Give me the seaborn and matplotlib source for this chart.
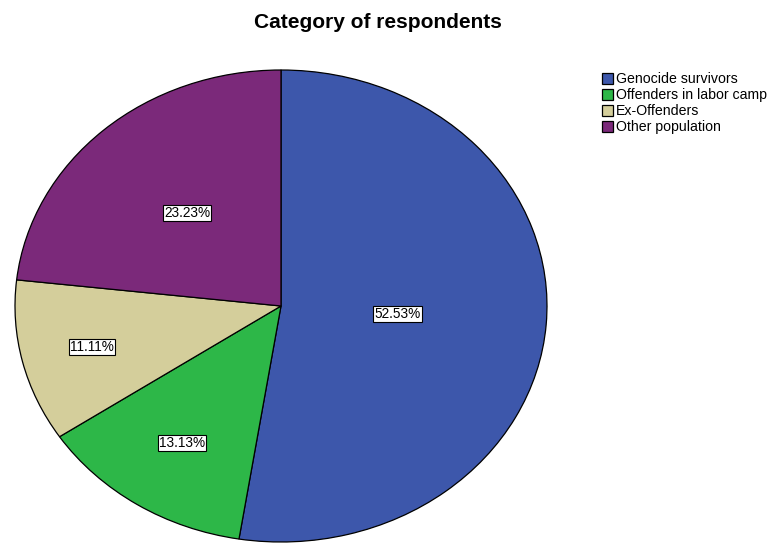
import numpy as np
import matplotlib.pyplot as plt
import seaborn as sns

# data (counts out of 99 respondents)
categories = ["Genocide survivors", "Offenders in labor camp", "Ex-Offenders", "Other population"]
counts = [52, 13, 11, 23]
colors = ["#3D57AB", "#2DB748", "#D4CE9B", "#7B297A"]
label_dist = [0.44, 0.69, 0.73, 0.53]

sns.set_theme(style="white")
plt.rcParams["font.family"] = ["Liberation Sans", "DejaVu Sans"]
plt.rcParams["text.color"] = "black"

fig = plt.figure(figsize=(7.72, 5.43), dpi=100)
ax = fig.add_axes([15 / 772, 1 / 543, 532 / 772, 472 / 543])

wedges, _ = ax.pie(
    counts,
    colors=sns.color_palette(colors),
    startangle=90,
    counterclock=False,
    wedgeprops=dict(edgecolor="black", linewidth=0.9),
)
ax.set_aspect("auto")
ax.set_xlim(-1.0, 1.0)
ax.set_ylim(-1.0, 1.0)

total = sum(counts)
for w, c, d in zip(wedges, counts, label_dist):
    ang = np.deg2rad((w.theta1 + w.theta2) / 2)
    ax.text(d * np.cos(ang), d * np.sin(ang), f"{100 * c / total:.2f}%",
            ha="center", va="center", fontsize=9.8, color="black",
            bbox=dict(boxstyle="square,pad=0.08", fc="white", ec="black", lw=0.8))

fig.text(0.49, 1 - 22 / 543, "Category of respondents", ha="center", va="center",
         fontsize=15, fontweight="bold", color="black")

fig.legend(wedges, categories, loc="upper left", bbox_to_anchor=(595 / 772, 1 - 65 / 543),
           frameon=False, fontsize=10.2, handlelength=0.75, handleheight=0.8,
           handletextpad=0.2, labelspacing=0.14, borderpad=0)

fig.savefig("out.png", dpi=100)
